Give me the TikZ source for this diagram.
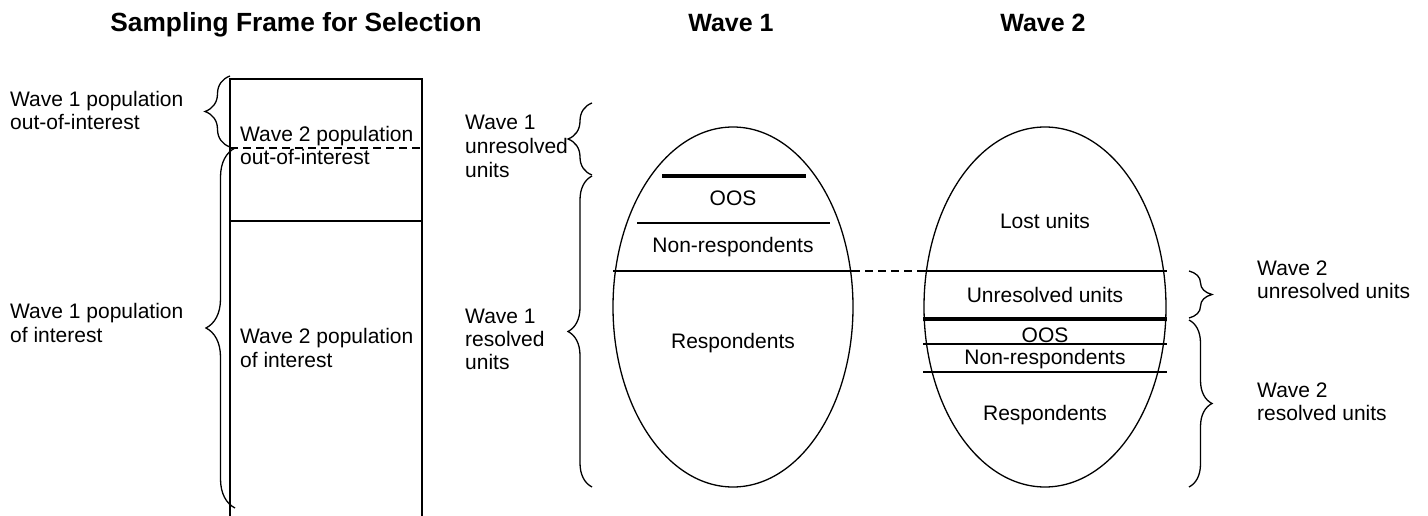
\documentclass[tikz,border=0pt]{standalone}
\usepackage{fontspec}
\setmainfont{Liberation Sans}
\usetikzlibrary{decorations.pathreplacing}
\begin{document}
\begin{tikzpicture}[x=1pt,y=-1pt,
  lbl/.style={inner sep=0pt, anchor=base west, font=\fontsize{21}{24}\selectfont},
  ctr/.style={inner sep=0pt, anchor=base, font=\fontsize{21}{24}\selectfont},
  ttl/.style={inner sep=0pt, anchor=base, font=\fontsize{#1}{30}\selectfont\bfseries},
  ttl/.default=25,
  outline/.style={line width=1.3pt},
  heavy/.style={line width=4.5pt},
  brc/.style={line width=1.3pt, decorate, decoration={brace, amplitude=#1}},
  brc/.default=24pt,
  dsh/.style={line width=1.3pt, dash pattern=on 8pt off 5pt},
]
\useasboundingbox (0,0) rectangle (1428,516);

% ---- column titles
\node[ttl=26.3] (tframe) at (296,32) {Sampling Frame for Selection};
\node[ttl] (twave1) at (731,32) {Wave 1};
\node[ttl] (twave2) at (1043,32) {Wave 2};

% ---- sampling frame (open at the bottom)
\coordinate (fbl) at (230,530);
\coordinate (ftl) at (230,79);
\coordinate (ftr) at (422,79);
\coordinate (fbr) at (422,530);
\draw[outline] (fbl) -- (ftl) -- (ftr) -- (fbr);
\coordinate (fdl) at (230,148);
\coordinate (fdr) at (422,148);
\draw[dsh] (fdl) -- (fdr);
\coordinate (fsl) at (230,221);
\coordinate (fsr) at (422,221);
\draw[outline] (fsl) -- (fsr);

\node[lbl] (w2oa) at (240,142) {Wave 2 population};
\node[lbl] (w2ob) at (240,165) {out-of-interest};
\node[lbl] (w2ia) at (240,343) {Wave 2 population};
\node[lbl] (w2ib) at (240,367) {of interest};

% ---- braces left of the frame
\coordinate (b1t) at (230,76);
\coordinate (b1b) at (230,147);
\draw[brc=25pt] (b1b) -- (b1t);
\coordinate (b2t) at (235,148);
\coordinate (b2b) at (235,508);
\draw[brc=29pt] (b2b) -- (b2t);

\node[lbl] (w1oa) at (10,107) {Wave 1 population};
\node[lbl] (w1ob) at (10,130) {out-of-interest};
\node[lbl] (w1ia) at (10,318) {Wave 1 population};
\node[lbl] (w1ib) at (10,342) {of interest};

% ---- wave 1 labels and braces
\node[lbl] (u1a) at (465,130) {Wave 1};
\node[lbl] (u1b) at (465,154) {unresolved};
\node[lbl] (u1c) at (465,178) {units};
\node[lbl] (r1a) at (465,323) {Wave 1};
\node[lbl] (r1b) at (465,346) {resolved};
\node[lbl] (r1c) at (465,369) {units};

\coordinate (b3t) at (592,103);
\coordinate (b3b) at (592,175);
\draw[brc] (b3b) -- (b3t);
\coordinate (b4t) at (592,176);
\coordinate (b4b) at (592,487);
\draw[brc] (b4b) -- (b4t);

% ---- wave 1 ellipse
\coordinate (e1) at (733,307);
\draw[outline] (e1) ellipse [x radius=120pt, y radius=180pt];
\coordinate (e1ka) at (662,176);
\coordinate (e1kb) at (806,176);
\draw[heavy] (e1ka) -- (e1kb);
\coordinate (e1na) at (637,223);
\coordinate (e1nb) at (830,223);
\draw[outline] (e1na) -- (e1nb);
\coordinate (e1ra) at (613,271);
\coordinate (e1rb) at (852,271);
\draw[outline] (e1ra) -- (e1rb);
\coordinate (dend) at (1015,271);
\draw[dsh] (e1rb) -- (dend);

\node[ctr] (e1oos) at (733,205) {OOS};
\node[ctr] (e1non) at (733,252) {Non-respondents};
\node[ctr] (e1res) at (733,348) {Respondents};

% ---- wave 2 ellipse
\coordinate (e2) at (1045,307);
\draw[outline] (e2) ellipse [x radius=121pt, y radius=180pt];
\coordinate (e2aa) at (923,271);
\coordinate (e2ab) at (1167,271);
\draw[outline] (e2aa) -- (e2ab);
\coordinate (e2ka) at (923,319);
\coordinate (e2kb) at (1167,319);
\draw[heavy] (e2ka) -- (e2kb);
\coordinate (e2ba) at (923,344);
\coordinate (e2bb) at (1167,344);
\draw[outline] (e2ba) -- (e2bb);
\coordinate (e2ca) at (923,372);
\coordinate (e2cb) at (1167,372);
\draw[outline] (e2ca) -- (e2cb);

\node[ctr] (e2lost) at (1045,228) {Lost units};
\node[ctr] (e2unr) at (1045,302) {Unresolved units};
\node[ctr] (e2oos) at (1045,342) {OOS};
\node[ctr] (e2non) at (1045,364) {Non-respondents};
\node[ctr] (e2res) at (1045,420) {Respondents};

% ---- wave 2 braces and labels
\coordinate (b5t) at (1189,271);
\coordinate (b5b) at (1189,318);
\draw[brc=23pt] (b5t) -- (b5b);
\coordinate (b6t) at (1189,320);
\coordinate (b6b) at (1189,487);
\draw[brc=23pt] (b6t) -- (b6b);

\node[lbl] (u2a) at (1257,275) {Wave 2};
\node[lbl] (u2b) at (1257,298) {unresolved units};
\node[lbl] (r2a) at (1257,397) {Wave 2};
\node[lbl] (r2b) at (1257,420) {resolved units};
\end{tikzpicture}
\end{document}
